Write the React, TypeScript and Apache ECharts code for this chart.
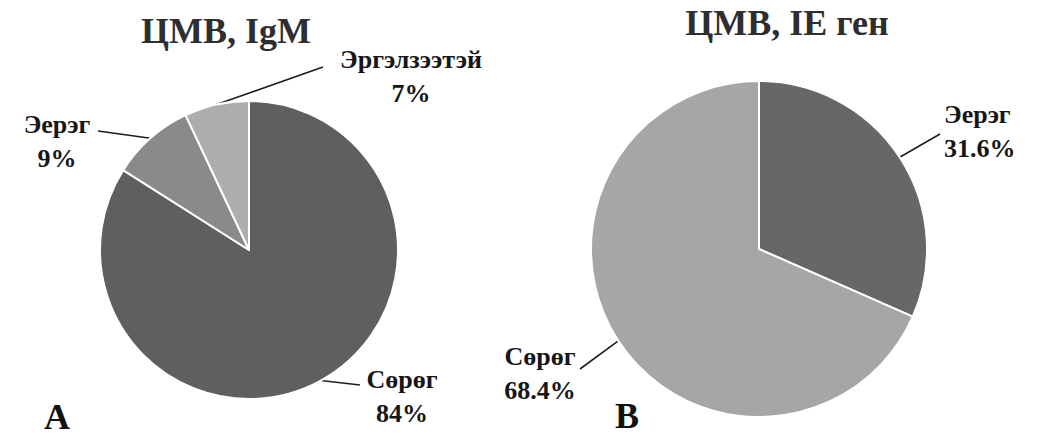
import React, { useEffect, useRef } from "react";
import * as echarts from "echarts";

const leftTitle = "ЦМВ, IgM";
const rightTitle = "ЦМВ, IE ген";
const panelLetters = ["A", "B"];

const leftCategories = ["Сөрөг", "Эерэг", "Эргэлзээтэй"];
const leftValues = [84, 9, 7];
const leftColors = ["#5f5f5f", "#8a8a8a", "#adadad"];

const rightCategories = ["Эерэг", "Сөрөг"];
const rightValues = [31.6, 68.4];
const rightColors = ["#676767", "#a6a6a6"];

// label placement: [x, y(top of text block), align, lineEndX, lineEndY]
const leftLabelPlace: [number, number, string, number, number][] = [
  [402, 362, "center", 360, 385],
  [57, 107, "center", 98, 131],
  [411, 42, "center", 323, 67],
];
const rightLabelPlace: [number, number, string, number, number][] = [
  [944, 97, "left", 940, 134],
  [540, 339, "center", 580, 369],
];

const FONT = "Liberation Serif";

function makeLayout(places: [number, number, string, number, number][]) {
  return (params: any) => {
    const p = places[params.dataIndex];
    const start = params.labelLinePoints
      ? params.labelLinePoints[0]
      : [p[3], p[4]];
    return {
      x: p[0],
      y: p[1],
      align: p[2],
      verticalAlign: "top",
      labelLinePoints: [start, [p[3], p[4]], [p[3], p[4]]],
    };
  };
}

export default function App() {
  const ref = useRef<HTMLDivElement>(null);
  useEffect(() => {
    document.body.style.margin = "0";
    const chart = echarts.init(ref.current!, null, { renderer: "svg" });
    const labelStyle = {
      show: true,
      formatter: "{b}\n{c}%",
      fontFamily: FONT,
      fontWeight: "bold",
      fontSize: 26,
      lineHeight: 34,
      color: "#161616",
    };
    const labelLine = {
      show: true,
      length: 10,
      length2: 10,
      lineStyle: { color: "#1e1e1e", width: 1.6 },
    };
    const textEl = (text: string, x: number, y: number, align: string, fill: string) => ({
      type: "text",
      x,
      y,
      style: {
        text,
        font: `bold 36px "${FONT}"`,
        lineHeight: 28,
        fill,
        textAlign: align,
        textVerticalAlign: "middle",
      },
    });
    chart.setOption({
      animation: false,
      backgroundColor: "#ffffff",
      graphic: [
        textEl(leftTitle, 226, 31, "center", "#2e2e2e"),
        textEl(rightTitle, 787, 23, "center", "#2e2e2e"),
        textEl(panelLetters[0], 44, 417, "left", "#111111"),
        textEl(panelLetters[1], 615, 416, "left", "#111111"),
      ],
      series: [
        {
          type: "pie",
          center: [249, 250],
          radius: 149,
          startAngle: 90,
          clockwise: true,
          itemStyle: { borderColor: "#ffffff", borderWidth: 2 },
          label: labelStyle,
          labelLine,
          labelLayout: makeLayout(leftLabelPlace),
          data: leftCategories.map((name, i) => ({
            name,
            value: leftValues[i],
            itemStyle: { color: leftColors[i] },
          })),
        },
        {
          type: "pie",
          center: [759, 249],
          radius: 168,
          startAngle: 90,
          clockwise: true,
          itemStyle: { borderColor: "#ffffff", borderWidth: 2 },
          label: labelStyle,
          labelLine,
          labelLayout: makeLayout(rightLabelPlace),
          data: rightCategories.map((name, i) => ({
            name,
            value: rightValues[i],
            itemStyle: { color: rightColors[i] },
          })),
        },
      ],
    });
    return () => chart.dispose();
  }, []);
  return <div ref={ref} style={{ width: 1046, height: 436 }} />;
}
